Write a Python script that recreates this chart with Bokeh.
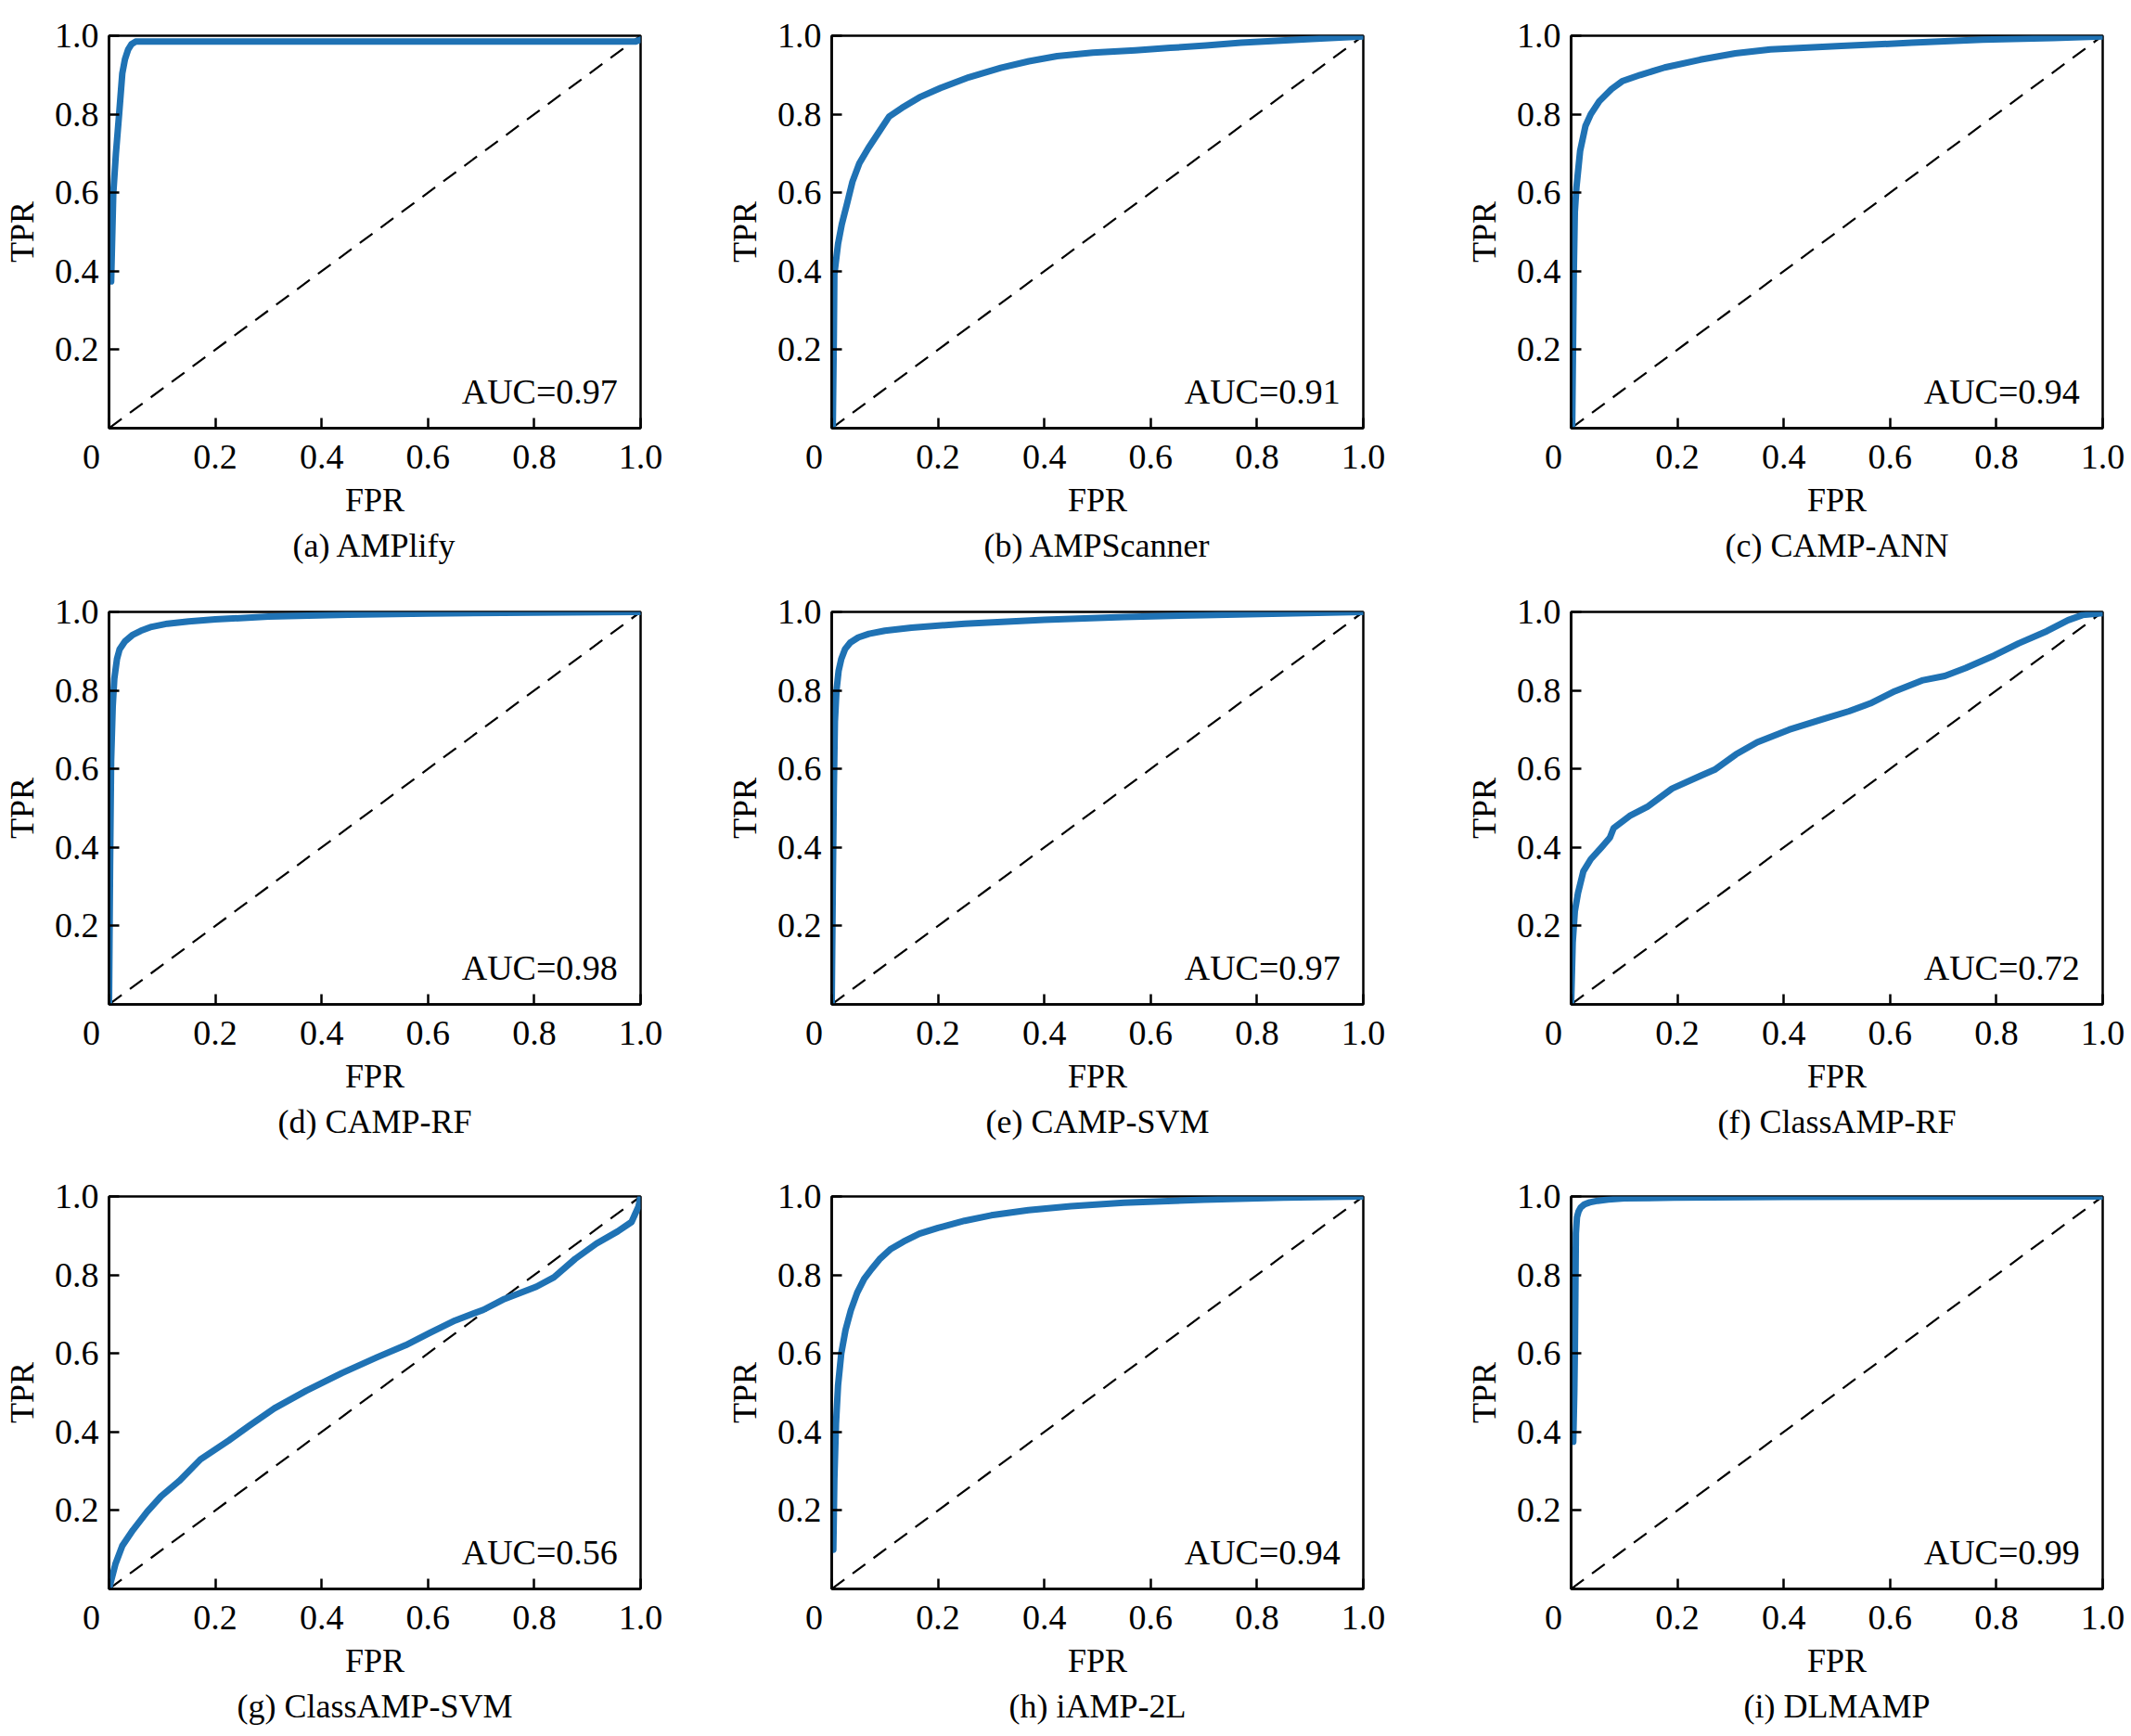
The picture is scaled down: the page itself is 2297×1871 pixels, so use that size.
from bokeh.plotting import figure
from bokeh.models import Range1d, FixedTicker, Label, Title, PrintfTickFormatter
from bokeh.layouts import column, row
from bokeh.embed import file_html
from bokeh.resources import INLINE

# ---------------- data ----------------
captions = ["(a) AMPlify", "(b) AMPScanner", "(c) CAMP-ANN",
            "(d) CAMP-RF", "(e) CAMP-SVM", "(f) ClassAMP-RF",
            "(g) ClassAMP-SVM", "(h) iAMP-2L", "(i) DLMAMP"]
auc_texts = ["AUC=0.97", "AUC=0.91", "AUC=0.94",
             "AUC=0.98", "AUC=0.97", "AUC=0.72",
             "AUC=0.56", "AUC=0.94", "AUC=0.99"]
x_tick_values = [0.0, 0.2, 0.4, 0.6, 0.8, 1.0]
y_tick_values = [0.2, 0.4, 0.6, 0.8, 1.0]
diag = [0.0, 1.0]

fpr_a = [0.004, 0.008, 0.013, 0.019, 0.025, 0.030, 0.036, 0.042, 0.050, 0.060, 0.990, 1.0]
tpr_a = [0.374, 0.597, 0.700, 0.800, 0.904, 0.940, 0.965, 0.978, 0.985, 0.985, 0.985, 0.990]

fpr_b = [0.0, 0.002, 0.004, 0.005, 0.012, 0.019, 0.029, 0.039, 0.052, 0.069, 0.088, 0.108,
         0.132, 0.165, 0.205, 0.258, 0.318, 0.371, 0.424, 0.491, 0.571, 0.637, 0.704, 0.770,
         0.837, 0.903, 1.0]
tpr_b = [0.0, 0.005, 0.237, 0.393, 0.470, 0.520, 0.573, 0.628, 0.675, 0.714, 0.753, 0.794,
         0.816, 0.843, 0.867, 0.894, 0.918, 0.935, 0.948, 0.957, 0.963, 0.969, 0.975, 0.982,
         0.987, 0.992, 0.998]

fpr_c = [0.002, 0.005, 0.007, 0.010, 0.017, 0.027, 0.037, 0.053, 0.076, 0.096, 0.130,
         0.176, 0.243, 0.309, 0.375, 0.508, 0.641, 0.774, 0.907, 1.0]
tpr_c = [0.002, 0.394, 0.550, 0.613, 0.707, 0.770, 0.800, 0.833, 0.864, 0.884, 0.900,
         0.919, 0.939, 0.955, 0.965, 0.974, 0.982, 0.990, 0.994, 0.998]

fpr_d = [0.0, 0.002, 0.004, 0.007, 0.010, 0.015, 0.020, 0.030, 0.045, 0.060, 0.080, 0.110,
         0.150, 0.200, 0.300, 0.450, 0.600, 0.800, 1.0]
tpr_d = [0.0, 0.350, 0.620, 0.760, 0.830, 0.880, 0.905, 0.925, 0.942, 0.952, 0.962, 0.970,
         0.976, 0.981, 0.988, 0.993, 0.996, 0.998, 1.0]

fpr_e = [0.0, 0.002, 0.004, 0.006, 0.009, 0.013, 0.018, 0.025, 0.035, 0.050, 0.070, 0.100,
         0.150, 0.250, 0.400, 0.550, 0.700, 0.850, 1.0]
tpr_e = [0.0, 0.300, 0.550, 0.720, 0.800, 0.850, 0.880, 0.905, 0.922, 0.935, 0.944, 0.952,
         0.960, 0.970, 0.980, 0.987, 0.992, 0.996, 1.0]

fpr_f = [0.0, 0.003, 0.007, 0.013, 0.023, 0.037, 0.057, 0.073, 0.080, 0.110, 0.143, 0.190,
         0.243, 0.270, 0.310, 0.350, 0.410, 0.476, 0.523, 0.563, 0.609, 0.662, 0.703, 0.742,
         0.796, 0.842, 0.895, 0.935, 0.962, 1.0]
tpr_f = [0.0, 0.158, 0.237, 0.284, 0.339, 0.370, 0.400, 0.425, 0.449, 0.480, 0.503, 0.550,
         0.582, 0.598, 0.637, 0.668, 0.700, 0.728, 0.747, 0.767, 0.798, 0.826, 0.837, 0.857,
         0.889, 0.920, 0.951, 0.979, 0.992, 0.997]

fpr_g = [0.0, 0.012, 0.025, 0.045, 0.072, 0.098, 0.132, 0.172, 0.225, 0.265, 0.311, 0.371,
         0.438, 0.504, 0.558, 0.604, 0.651, 0.704, 0.744, 0.804, 0.837, 0.877, 0.917, 0.957,
         0.983, 0.996, 1.0]
tpr_g = [0.0, 0.063, 0.110, 0.150, 0.197, 0.236, 0.275, 0.330, 0.378, 0.417, 0.460, 0.505,
         0.550, 0.590, 0.621, 0.653, 0.684, 0.711, 0.739, 0.770, 0.794, 0.841, 0.880, 0.911,
         0.935, 0.974, 1.0]

fpr_h = [0.003, 0.005, 0.008, 0.012, 0.018, 0.026, 0.036, 0.048, 0.061, 0.075, 0.090, 0.110,
         0.135, 0.165, 0.200, 0.250, 0.300, 0.370, 0.450, 0.550, 0.700, 0.850, 1.0]
tpr_h = [0.100, 0.280, 0.420, 0.520, 0.600, 0.660, 0.710, 0.755, 0.790, 0.815, 0.840, 0.865,
         0.885, 0.905, 0.920, 0.938, 0.952, 0.965, 0.975, 0.984, 0.992, 0.997, 1.0]

fpr_i = [0.004, 0.006, 0.007, 0.008, 0.009, 0.011, 0.014, 0.018, 0.025, 0.035, 0.050, 0.070,
         0.100, 0.194, 0.400, 1.0]
tpr_i = [0.375, 0.500, 0.600, 0.750, 0.906, 0.947, 0.962, 0.972, 0.980, 0.985, 0.989, 0.992,
         0.995, 0.997, 0.999, 1.0]

fprs = [fpr_a, fpr_b, fpr_c, fpr_d, fpr_e, fpr_f, fpr_g, fpr_h, fpr_i]
tprs = [tpr_a, tpr_b, tpr_c, tpr_d, tpr_e, tpr_f, tpr_g, tpr_h, tpr_i]

# ---------------- layout / style ----------------
FONT = "Liberation Serif"
BLUE = "#1f72b4"
col_widths = [779, 797, 718]
row_heights = [621, 630, 619]
LEFT = 117
TOP = 38
FRAME_W = 573
FRAME_H = 423
NBSP = "\u00a0"


def make_panel(i):
    ci, ri = i % 3, i // 3
    w, h = col_widths[ci], row_heights[ri]
    p = figure(width=w, height=h, x_range=Range1d(0, 1), y_range=Range1d(0, 1),
               output_backend="svg", toolbar_location=None,
               min_border_left=LEFT, min_border_top=TOP,
               min_border_right=w - LEFT - FRAME_W,
               min_border_bottom=h - TOP - FRAME_H)
    p.background_fill_color = "white"
    p.border_fill_color = "white"
    p.outline_line_color = "black"
    p.outline_line_width = 2.5
    p.grid.visible = False

    p.xaxis[0].ticker = FixedTicker(ticks=x_tick_values)
    p.yaxis[0].ticker = FixedTicker(ticks=y_tick_values)
    for ax in (p.xaxis[0], p.yaxis[0]):
        ax.formatter = PrintfTickFormatter(format="%.1f")
        ax.major_tick_in = 11
        ax.major_tick_out = 0
        ax.major_tick_line_width = 2.5
        ax.major_tick_line_color = "black"
        ax.minor_tick_line_color = None
        ax.axis_line_width = 2.5
        ax.axis_line_color = "black"
        ax.major_label_text_font = FONT
        ax.major_label_text_font_size = "38px"
        ax.major_label_text_color = "black"
        ax.axis_label_text_font = FONT
        ax.axis_label_text_font_size = "36px"
        ax.axis_label_text_font_style = "normal"
        ax.axis_label_text_color = "black"
    # shared origin "0", nudged left of the corner as in the original
    p.xaxis[0].major_label_overrides = {0: "0" + NBSP * 4}
    p.xaxis[0].major_label_standoff = 9
    p.yaxis[0].major_label_standoff = 11
    p.xaxis.axis_label = "FPR"
    p.yaxis.axis_label = "TPR"
    p.xaxis.axis_label_standoff = 3
    p.yaxis.axis_label_standoff = 12

    p.line(diag, diag, line_color="black", line_width=2.2, line_dash="17 11")
    p.line(fprs[i], tprs[i], line_color=BLUE, line_width=7,
           line_join="round", line_cap="round")

    p.add_layout(Label(x=0.957, y=0.094, text=auc_texts[i], text_align="right",
                       text_baseline="alphabetic", text_font=FONT,
                       text_font_size="38px", text_color="black"))

    cap = Title(text=captions[i], align="center", text_font=FONT,
                text_font_size="36px", text_font_style="normal",
                text_color="black", standoff=9)
    p.add_layout(cap, "below")
    return p


panels = [make_panel(i) for i in range(9)]
layout = column(row(*panels[0:3]), row(*panels[3:6]), row(*panels[6:9]))

open("out.html", "w").write(file_html(layout, INLINE, title="ROC curves"))
